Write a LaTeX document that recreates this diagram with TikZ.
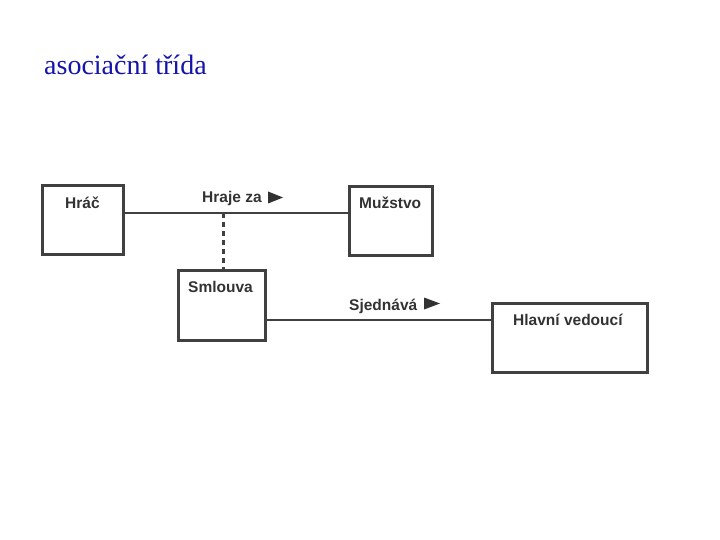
\documentclass[tikz,border=0pt]{standalone}
\usepackage{fontspec}
\setmainfont{Liberation Serif}
\newfontfamily\diagfont{Liberation Sans}
\definecolor{titleblue}{RGB}{20,20,170}
\definecolor{boxgray}{RGB}{64,64,64}
\definecolor{txtgray}{RGB}{50,50,50}
\begin{document}
\begin{tikzpicture}[x=1pt,y=-1pt,
  classbox/.style={draw=boxgray, line width=3pt, rectangle, inner sep=0pt},
  classtext/.style={anchor=base west, inner sep=0pt, text=txtgray, font=\diagfont\bfseries\fontsize{15.5}{17}\selectfont},
  assoc/.style={draw=boxgray, line width=2.2pt},
  dashassoc/.style={draw=boxgray, line width=3pt, dash pattern=on 5pt off 4pt},
  tri/.style={fill=txtgray}]
\useasboundingbox (0,0) rectangle (720,540);
\node[anchor=base west, inner sep=0pt, text=titleblue, font=\fontsize{28}{31}\selectfont] (title) at (44,75) {asociační třída};

\node[classbox, minimum width=81pt, minimum height=68pt] (hrac) at (82.5,220) {};
\node[classbox, minimum width=83pt, minimum height=68pt] (muzstvo) at (390.5,221) {};
\node[classbox, minimum width=87pt, minimum height=70pt] (smlouva) at (221.5,305) {};
\node[classbox, minimum width=155pt, minimum height=69pt] (hlavni) at (569.5,337.5) {};

\node[classtext] (thrac) at (65,208) {Hráč};
\node[classtext] (tmuz) at (359,208) {Mužstvo};
\node[classtext] (tsml) at (188,292) {Smlouva};
\node[classtext] (thl) at (513,325) {Hlavní vedoucí};

\coordinate (j1) at (223,213);
\draw[assoc] (hrac.east |- j1) -- (muzstvo.west |- j1);
\draw[dashassoc] (j1) -- (smlouva.north -| j1);
\coordinate (j2) at (0,320);
\draw[assoc] (smlouva.east |- j2) -- (hlavni.west |- j2);

\node[classtext] (lhraje) at (202,203) {Hraje za};
\fill[tri] (268,191.5) -- (283,197.5) -- (268,203.5) -- cycle;
\node[classtext] (lsjed) at (349,310) {Sjednává};
\fill[tri] (424,297.5) -- (440,303.5) -- (424,309.5) -- cycle;
\end{tikzpicture}
\end{document}
